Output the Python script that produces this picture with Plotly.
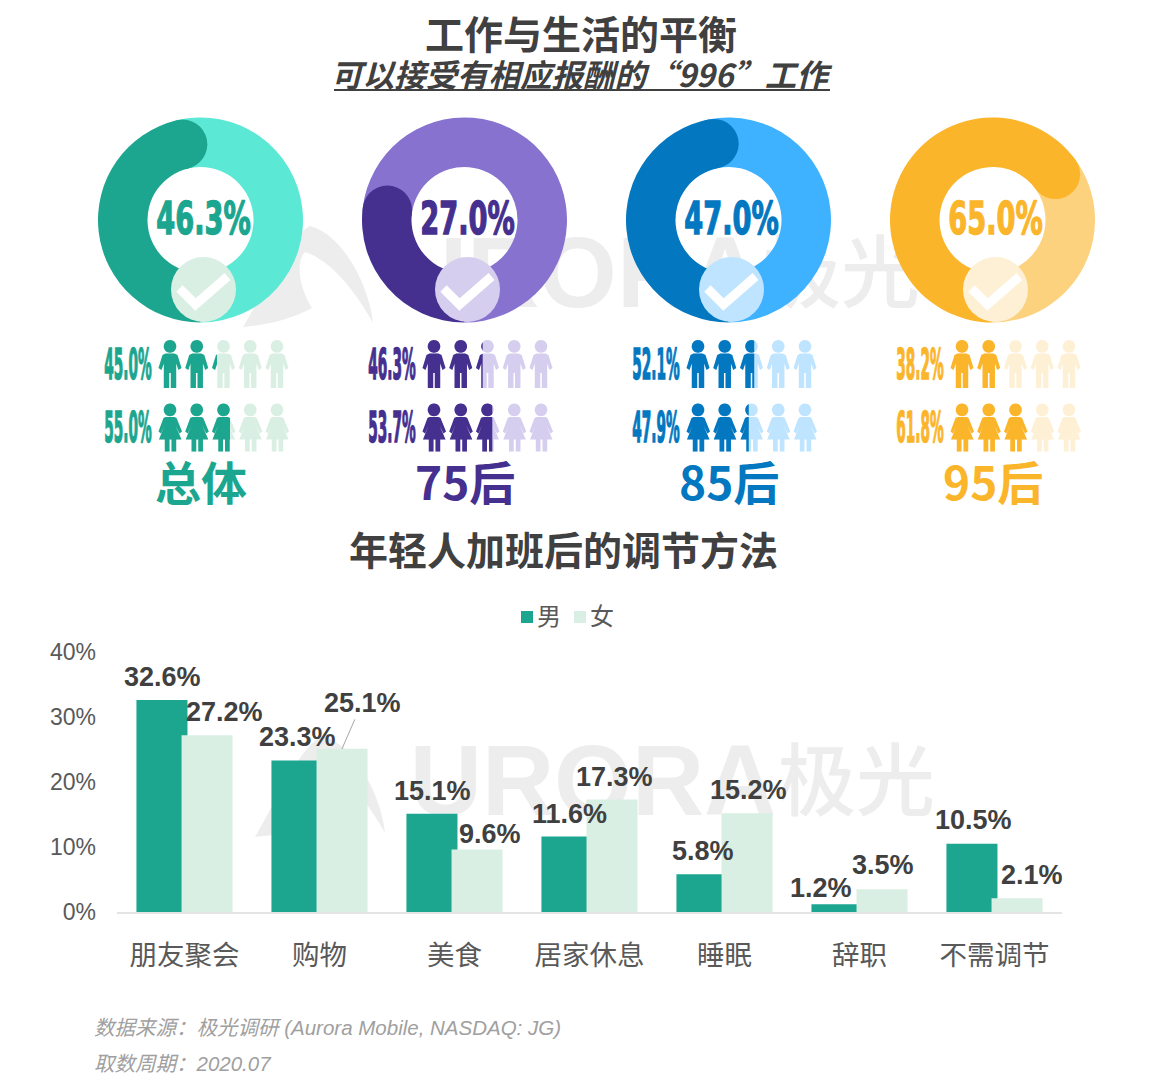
import math
import plotly.graph_objects as go

# ---------- data ----------
groups = ["总体", "75后", "85后", "95后"]
accept_share = [46.3, 27.0, 47.0, 65.0]
male_share = [45.0, 46.3, 52.1, 38.2]
female_share = [55.0, 53.7, 47.9, 61.8]

categories = ["朋友聚会", "购物", "美食", "居家休息", "睡眠", "辞职", "不需调节"]
male_values = [32.6, 23.3, 15.1, 11.6, 5.8, 1.2, 10.5]
female_values = [27.2, 25.1, 9.6, 17.3, 15.2, 3.5, 2.1]
y_ticks = [0, 10, 20, 30, 40]
y_tick_labels = ["0%", "10%", "20%", "30%", "40%"]

# ---------- styles / layout helpers ----------
dark = ["#1CA68F", "#452F8F", "#0377BF", "#FBB52A"]
light = ["#5BE9D5", "#8872CF", "#3EB2FF", "#FCD27F"]
pale = ["#DAEFE3", "#D5CEEE", "#BEE4FF", "#FEF0D4"]
TXT = "#404040"
CJK = "Noto Sans CJK SC"
SANS = "Liberation Sans, Noto Sans CJK SC"
W, H = 1160, 1080
STEP = 264
DONUT_X0, DONUT_Y, R_OUT, R_IN = 200.5, 220, 102.5, 53


def clip_left(poly, xc):
    out = []
    n = len(poly)
    for i in range(n):
        a, b = poly[i], poly[(i + 1) % n]
        ina, inb = a[0] <= xc, b[0] <= xc
        if ina:
            out.append(a)
        if ina != inb:
            t = (xc - a[0]) / (b[0] - a[0])
            out.append((xc, a[1] + t * (b[1] - a[1])))
    return out


def head():
    return [(11.5 + 6.3 * math.cos(i / 24 * 2 * math.pi), 6.4 + 6.4 * math.sin(i / 24 * 2 * math.pi)) for i in range(24)]


MAN = [(7, 13.5), (16, 13.5), (19, 15), (23, 28), (20, 30), (17.7, 23.5), (17.7, 48), (12.3, 48), (12.3, 33),
       (10.7, 33), (10.7, 48), (5.3, 48), (5.3, 23.5), (3, 30), (0, 28), (4, 15)]
WOMAN = [(7, 13.5), (16, 13.5), (18, 14.5), (23.5, 28), (21, 30), (17, 22), (23, 36), (17.7, 36), (17.7, 48),
         (13, 48), (13, 36), (11, 36), (11, 48), (6.3, 48), (6.3, 36), (0.5, 36), (6, 22), (2.5, 30),
         (0, 28), (5, 14.5)]


def people(x0, y0, glyph, share=None):
    """Row of five figures; when share is given only the part left of share% is returned."""
    xs, ys = [], []
    xc = x0 + 130 * share / 100 if share is not None else 1e9
    for k in range(5):
        ox = x0 + k * 26.75
        for shape in (head(), glyph):
            pts = clip_left([(ox + a, y0 + b) for a, b in shape], xc)
            if pts:
                xs += [p[0] for p in pts] + [pts[0][0], None]
                ys += [p[1] for p in pts] + [pts[0][1], None]
    return xs, ys


def logo(dx, dy):
    return (f"M{243+dx} {327+dy} C {265+dx} {290+dy}, {285+dx} {240+dy}, {310+dx} {226+dy} "
            f"C {345+dx} {235+dy}, {370+dx} {290+dy}, {373+dx} {323+dy} "
            f"C {355+dx} {290+dy}, {330+dx} {260+dy}, {305+dx} {252+dy} "
            f"C {295+dx} {262+dy}, {300+dx} {290+dy}, {312+dx} {308+dy} "
            f"C {290+dx} {320+dy}, {265+dx} {325+dy}, {243+dx} {327+dy} Z")


fig = go.Figure()

shapes = []
for dx, dy in [(0, 0), (12, 510)]:
    shapes.append(dict(type="path", path=logo(dx, dy), xref="x", yref="y", layer="below",
                       fillcolor="#EDEDED", line=dict(width=0)))

# watermark, drawn first so that everything else covers it
fig.add_trace(go.Scatter(x=[578, 593], y=[282, 790], mode="text", text=["URORA", "URORA"],
                         textposition="middle center", hoverinfo="skip", showlegend=False,
                         textfont=dict(family=SANS, size=100, color="#EDEDED", weight=700),
                         xaxis="x", yaxis="y"))
fig.add_trace(go.Scatter(x=[841, 856], y=[282, 790], mode="text", text=["极光", "极光"],
                         textposition="middle center", hoverinfo="skip", showlegend=False,
                         textfont=dict(family=CJK, size=79, color="#EDEDED", weight=500),
                         xaxis="x", yaxis="y"))

for g, name in enumerate(groups):
    cx = DONUT_X0 + g * STEP
    share = accept_share[g]
    fig.add_trace(go.Pie(values=[share, 100 - share], sort=False, direction="clockwise", rotation=180,
                         hole=R_IN / R_OUT, textinfo="none", hoverinfo="skip", showlegend=False,
                         marker=dict(colors=[dark[g], light[g]], line=dict(width=0)),
                         domain=dict(x=[(cx - R_OUT) / W, (cx + R_OUT) / W],
                                     y=[(H - DONUT_Y - R_OUT) / H, (H - DONUT_Y + R_OUT) / H])))
    # rounded end of the arc
    ang = math.radians(180 + share * 3.6)
    rm = (R_OUT + R_IN) / 2
    ex, ey = cx + rm * math.sin(ang), DONUT_Y - rm * math.cos(ang)
    rc = (R_OUT - R_IN) / 2
    shapes.append(dict(type="circle", xref="x", yref="y", x0=ex - rc, x1=ex + rc, y0=ey - rc, y1=ey + rc,
                       fillcolor=dark[g], line=dict(width=0), layer="above"))
    # tick badge
    bx, by = cx + 3, 289.5
    shapes.append(dict(type="circle", xref="x", yref="y", x0=bx - 32.5, x1=bx + 32.5, y0=by - 32.5, y1=by + 32.5,
                       fillcolor=pale[g], line=dict(width=0), layer="above"))
    shapes.append(dict(type="path", xref="x", yref="y", layer="above",
                       path=f"M{bx-24} {by-1} L{bx-8} {by+15} L{bx+24} {by-13}",
                       line=dict(color="white", width=9), fillcolor="rgba(0,0,0,0)"))
    # pictograms
    x0 = 158.5 + g * STEP
    for glyph, y0, val in [(MAN, 340, male_share[g]), (WOMAN, 403.5, female_share[g])]:
        xs, ys = people(x0, y0, glyph)
        fig.add_trace(go.Scatter(x=xs, y=ys, fill="toself", fillcolor=pale[g], mode="none", hoverinfo="skip",
                                 showlegend=False, xaxis="x", yaxis="y"))
        xs, ys = people(x0, y0, glyph, val)
        fig.add_trace(go.Scatter(x=xs, y=ys, fill="toself", fillcolor=dark[g], mode="none", hoverinfo="skip",
                                 showlegend=False, xaxis="x", yaxis="y"))
    # condensed numbers
    fig.add_trace(go.Scatter(x=[cx + 3], y=[DONUT_Y + 3], mode="text", text=[f"{share:.1f}%"], hoverinfo="skip",
                             textposition="middle center", showlegend=False, cliponaxis=False,
                             textfont=dict(family="DejaVu Sans", size=44, weight=700, color=dark[g]),
                             xaxis="x", yaxis="y"))
    lx = 128 + g * STEP
    fig.add_trace(go.Scatter(x=[lx, lx], y=[368, 431],
                             mode="text", text=[f"{male_share[g]:.1f}%", f"{female_share[g]:.1f}%"], hoverinfo="skip",
                             textposition="middle center", showlegend=False, cliponaxis=False,
                             textfont=dict(family="DejaVu Sans", size=43.5, weight=700, color=dark[g]),
                             xaxis="x", yaxis="y"))

# bars
fig.add_trace(go.Bar(name="男", x=categories, y=male_values, width=0.378, offset=-0.356, marker_color=dark[0],
                     marker_line_width=0, xaxis="x2", yaxis="y2", showlegend=False))
fig.add_trace(go.Bar(name="女", x=categories, y=female_values, width=0.378, offset=-0.022, marker_color=pale[0],
                     marker_line_width=0, xaxis="x2", yaxis="y2", showlegend=False))

# hand-made legend, tighter than the built-in one
fig.add_trace(go.Scatter(x=[527, 580], y=[617, 617], mode="markers", hoverinfo="skip", showlegend=False,
                         marker=dict(symbol="square", size=12, color=[dark[0], pale[0]], line=dict(width=0)),
                         xaxis="x", yaxis="y"))
fig.add_trace(go.Scatter(x=[549, 602], y=[619, 619], mode="text", text=["男", "女"], hoverinfo="skip",
                         textposition="middle center", showlegend=False,
                         textfont=dict(family=CJK, size=24, color="#595959"), xaxis="x", yaxis="y"))

annotations = []


def note(x, y, text, size, color=TXT, weight=400, style="normal", family=CJK, xanchor="center"):
    annotations.append(dict(x=x, y=y, xref="x", yref="y", text=text, showarrow=False, xanchor=xanchor, yanchor="middle",
                            font=dict(family=family, size=size, color=color, weight=weight, style=style)))


note(582, 73, "可以接受有相应报酬的“996”工作", 31.5, weight=700, style="italic")
shapes.append(dict(type="line", xref="x", yref="y", x0=334, x1=830, y0=90, y1=90, line=dict(color=TXT, width=2),
                   layer="above"))
note(563, 548, "年轻人加班后的调节方法", 39, weight=700)
for g, name in enumerate(groups):
    note(201 + g * STEP, 480, name, 46, color=dark[g], weight=700)
note(92, 1027, "数据来源：极光调研 (Aurora Mobile, NASDAQ: JG)", 20.5, color="#A0A0A0", style="italic", family=SANS, xanchor="left")
note(92, 1063, "取数周期：2020.07", 20.5, color="#A0A0A0", style="italic", family=SANS, xanchor="left")

# value labels: pixel nudges from the top-centre of each bar
male_nudge = [(0, 23), (0, 24), (0, 23), (2, 23), (1, 23), (-16, 16), (1, 24)]
female_nudge = [(17, 23), None, (13, 16), (2, 23), (1, 23), (1, 24), (15, 23)]
LABEL = dict(family=SANS, size=27, color=TXT, weight=700)
for i, c in enumerate(categories):
    dx, dy = male_nudge[i]
    annotations.append(dict(x=c, y=male_values[i], xref="x2", yref="y2", text=f"{male_values[i]:.1f}%",
                            xshift=-22.5 + dx, yshift=dy, showarrow=False, yanchor="middle", font=LABEL))
    if female_nudge[i] is None:
        annotations.append(dict(x=c, y=female_values[i], xref="x2", yref="y2", text=f"{female_values[i]:.1f}%",
                                xshift=22.5, showarrow=True, arrowhead=0, arrowwidth=1, arrowcolor="#A6A6A6",
                                ax=20, ay=-46, standoff=0, font=LABEL))
    else:
        dx, dy = female_nudge[i]
        annotations.append(dict(x=c, y=female_values[i], xref="x2", yref="y2", text=f"{female_values[i]:.1f}%",
                                xshift=22.5 + dx, yshift=dy, showarrow=False, yanchor="middle", font=LABEL))

fig.update_layout(
    width=W, height=H, margin=dict(l=0, r=0, t=0, b=0, autoexpand=False), paper_bgcolor="white",
    plot_bgcolor="rgba(0,0,0,0)", barmode="overlay",
    title=dict(text="工作与生活的平衡", x=581 / W, y=1 - 35 / H, xanchor="center", yanchor="middle",
               font=dict(family=CJK, size=39, color=TXT, weight=700)),
    xaxis=dict(range=[0, W], domain=[0, 1], visible=False, fixedrange=True, automargin=False),
    yaxis=dict(range=[H, 0], domain=[0, 1], visible=False, fixedrange=True, automargin=False),
    xaxis2=dict(domain=[117 / W, 1062 / W], anchor="y2", type="category", categoryorder="array",
                categoryarray=categories, range=[-0.5, len(categories) - 0.5], showgrid=False, showline=True,
                linecolor="#E4E4E4", linewidth=2, automargin=False, ticks="", ticklabelstandoff=18,
                tickfont=dict(family=SANS, size=27.5, color="#595959")),
    yaxis2=dict(domain=[(H - 912) / H, (H - 652) / H], anchor="x2", range=[0, 40], tickmode="array", tickvals=y_ticks,
                ticktext=y_tick_labels, showgrid=False, zeroline=False, showline=False, automargin=False, ticks="",
                ticklabelstandoff=20, tickfont=dict(family=SANS, size=23, color="#595959")),
    shapes=shapes, annotations=annotations,
)

POST = """
document.body.style.margin = '0';
(function () {
  function squeeze() {
    document.querySelectorAll('.textpoint text').forEach(function (t) {
      var s = parseFloat(t.style.fontSize);
      var k = s === 44 ? 0.62 : (s === 43.5 ? 0.315 : 1);
      if (k !== 1) {
        var x = parseFloat(t.getAttribute('x'));
        t.setAttribute('transform', 'translate(' + x + ',0) scale(' + k + ',1) translate(' + (-x) + ',0)');
        t.style.stroke = t.style.fill;
        t.style.strokeWidth = k < 0.5 ? '1.6px' : '1.4px';
      }
    });
  }
  squeeze();
  setTimeout(squeeze, 0);
  setTimeout(squeeze, 100);
  var gd = document.getElementById('{plot_id}');
  if (gd && gd.on) { gd.on('plotly_afterplot', squeeze); }
})();
"""
fig.write_html("out.html", post_script=POST, config={"displayModeBar": False})
